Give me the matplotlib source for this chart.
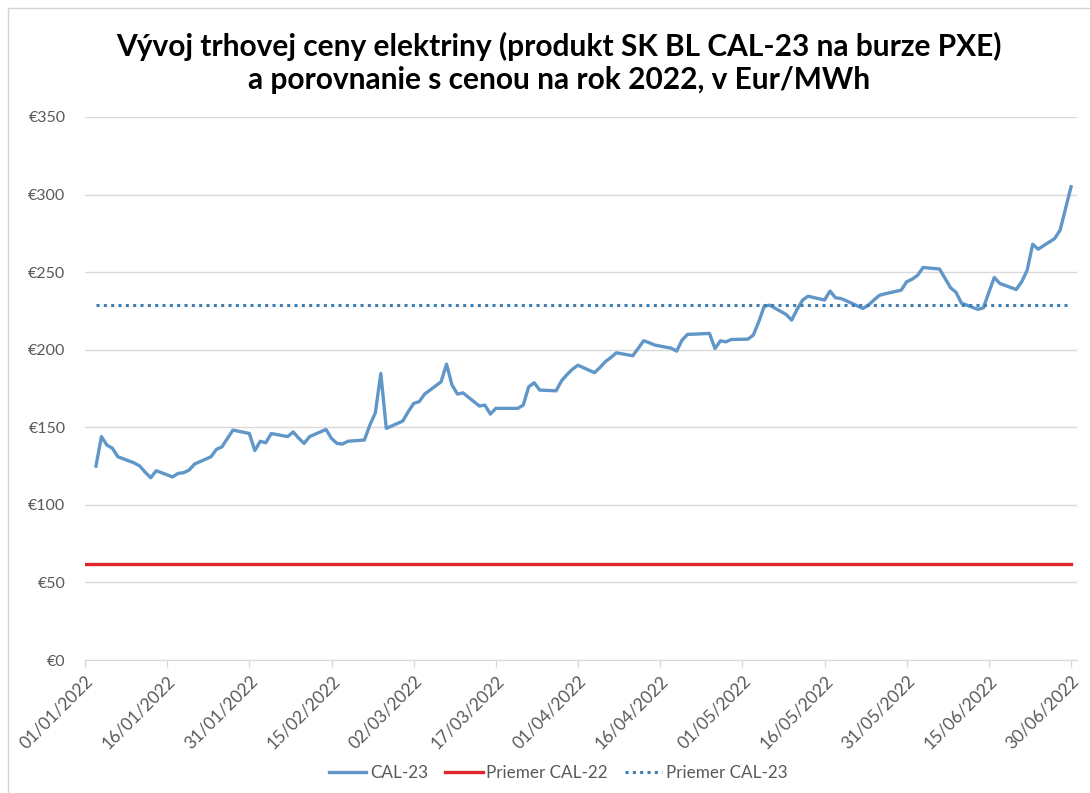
import matplotlib
matplotlib.use('Agg')
import matplotlib.pyplot as plt
import matplotlib.dates as mdates
import matplotlib.ticker as ticker
from matplotlib.lines import Line2D
from matplotlib.patches import Rectangle
import pandas as pd

plt.rcParams['font.family'] = ['Lato', 'DejaVu Sans']

# ── data (EUR/MWh, SK BL CAL-23 daily settlement) ────────────────────────────
trade_days = pd.bdate_range('2022-01-03', '2022-06-30')

cal23 = [
    125.0, 144.0, 138.5, 136.5, 131.0,   # 03.01 - 07.01
    127.0, 125.0, 121.0, 117.5, 122.0,   # 10.01 - 14.01
    118.0, 120.3, 120.7, 122.4, 126.3,   # 17.01 - 21.01
    131.0, 135.8, 137.4, 142.8, 148.2,   # 24.01 - 28.01
    146.0, 135.0, 141.0, 140.0, 146.0,   # 31.01 - 04.02
    144.0, 147.0, 143.0, 139.6, 144.0,   # 07.02 - 11.02
    148.6, 142.8, 139.6, 139.2, 141.0,   # 14.02 - 18.02
    141.8, 151.4, 159.3, 184.7, 149.3,   # 21.02 - 25.02
    154.0, 160.0, 165.4, 166.5, 171.4,   # 28.02 - 04.03
    179.3, 190.7, 177.2, 171.4, 172.2,   # 07.03 - 11.03
    163.7, 164.3, 158.5, 162.2, 162.2,   # 14.03 - 18.03
    162.2, 164.3, 176.1, 178.7, 174.0,   # 21.03 - 25.03
    173.5, 180.0, 184.0, 187.5, 190.0,   # 28.03 - 01.04
    185.2, 188.5, 192.3, 195.0, 198.0,   # 04.04 - 08.04
    196.1, 201.0, 205.8, 204.5, 203.0,   # 11.04 - 15.04
    201.0, 199.1, 206.2, 209.9, 210.0,   # 18.04 - 22.04
    210.5, 200.8, 205.7, 205.1, 206.6,   # 25.04 - 29.04
    206.8, 209.4, 218.0, 228.1, 228.7,   # 02.05 - 06.05
    222.7, 219.1, 226.0, 232.0, 234.5,   # 09.05 - 13.05
    232.0, 237.8, 233.5, 233.0, 231.5,   # 16.05 - 20.05
    226.6, 228.7, 232.0, 235.0, 236.0,   # 23.05 - 27.05
    238.4, 243.8, 245.5, 248.0, 253.0,   # 30.05 - 03.06
    252.0, 246.0, 240.0, 237.0, 230.0,   # 06.06 - 10.06
    226.0, 227.0, 237.0, 246.6, 242.7,   # 13.06 - 17.06
    238.8, 243.8, 251.3, 268.0, 264.8,   # 20.06 - 24.06
    271.6, 277.0, 291.0, 305.0,          # 27.06 - 30.06
]

avg_cal22 = 62.0    # Priemer CAL-22
avg_cal23 = 228.8   # Priemer CAL-23
cal22_span = pd.to_datetime(['2022-01-01', '2022-06-30'])

x_ticks = pd.date_range('2022-01-01', '2022-06-30', freq='15D')
y_ticks = [0, 50, 100, 150, 200, 250, 300, 350]

title = ('Vývoj trhovej ceny elektriny (produkt SK BL CAL-23 na burze PXE)\n'
         'a porovnanie s cenou na rok 2022, v Eur/MWh')

# ── colours ─────────────────────────────────────────────────────────────────
_BLUE = '#6097c8'
_RED = '#e0262a'
_DOT = '#3c7eb2'
_GRID = '#d9d9d9'
_TEXT = '#595959'

W, H = 1090, 793
fig = plt.figure(figsize=(W / 100, H / 100), dpi=100, facecolor='white')
ax = fig.add_axes([85 / W, 133 / H, (1076.5 - 85) / W, 543 / H])

# chart frame (only top/left edges are inside the screenshot)
fig.patches.append(Rectangle((8 / W, -0.05), 1.05, 1 - 8 / H + 0.05,
                             transform=fig.transFigure, fill=False,
                             edgecolor='#d4d4d4', linewidth=1.0, zorder=0))

ax.plot(trade_days, cal23, color=_BLUE, linewidth=2.4, solid_joinstyle='round',
        zorder=3)
ax.plot(cal22_span, [avg_cal22] * len(cal22_span), color=_RED, linewidth=2.4,
        zorder=3)
ax.plot(trade_days, [avg_cal23] * len(trade_days), color=_DOT, linewidth=2.2,
        linestyle=(0, (1, 1.4)), zorder=3)

ax.set_xlim(pd.Timestamp('2022-01-01'), pd.Timestamp('2022-07-01'))
ax.set_ylim(0, 350)

ax.set_xticks(x_ticks)
ax.xaxis.set_major_formatter(mdates.DateFormatter('%d/%m/%Y'))
ax.set_yticks(y_ticks)
ax.yaxis.set_major_formatter(ticker.FuncFormatter(lambda v, _: f'€{v:.0f}'))

for lbl in ax.get_xticklabels():
    lbl.set_rotation(45)
    lbl.set_ha('right')
    lbl.set_rotation_mode('anchor')

ax.tick_params(axis='x', length=5, width=1, color=_GRID, labelsize=12.5,
               labelcolor=_TEXT, pad=4)
ax.tick_params(axis='y', length=0, labelsize=11.5, labelcolor=_TEXT, pad=14)

for side in ('top', 'right', 'left'):
    ax.spines[side].set_visible(False)
ax.spines['bottom'].set_color(_GRID)
ax.yaxis.grid(True, color=_GRID, linewidth=1.0)
ax.set_axisbelow(True)

fig.text(0.513, 0.921, title, ha='center', va='center', fontsize=21.5,
         fontweight='bold', color='black', linespacing=1.2)

handles = [
    Line2D([], [], color=_BLUE, linewidth=2.4),
    Line2D([], [], color=_RED, linewidth=2.4),
    Line2D([], [], color=_DOT, linewidth=2.2, linestyle=(0, (1, 1.4))),
]
leg = fig.legend(handles, ['CAL-23', 'Priemer CAL-22', 'Priemer CAL-23'],
                 loc='center', bbox_to_anchor=(0.512, 1 - 773 / H), ncol=3,
                 frameon=False, fontsize=12.3, handlelength=2.2,
                 handletextpad=0.2, columnspacing=1.0)
for t in leg.get_texts():
    t.set_color(_TEXT)

fig.savefig('out.png', dpi=100, facecolor='white')
